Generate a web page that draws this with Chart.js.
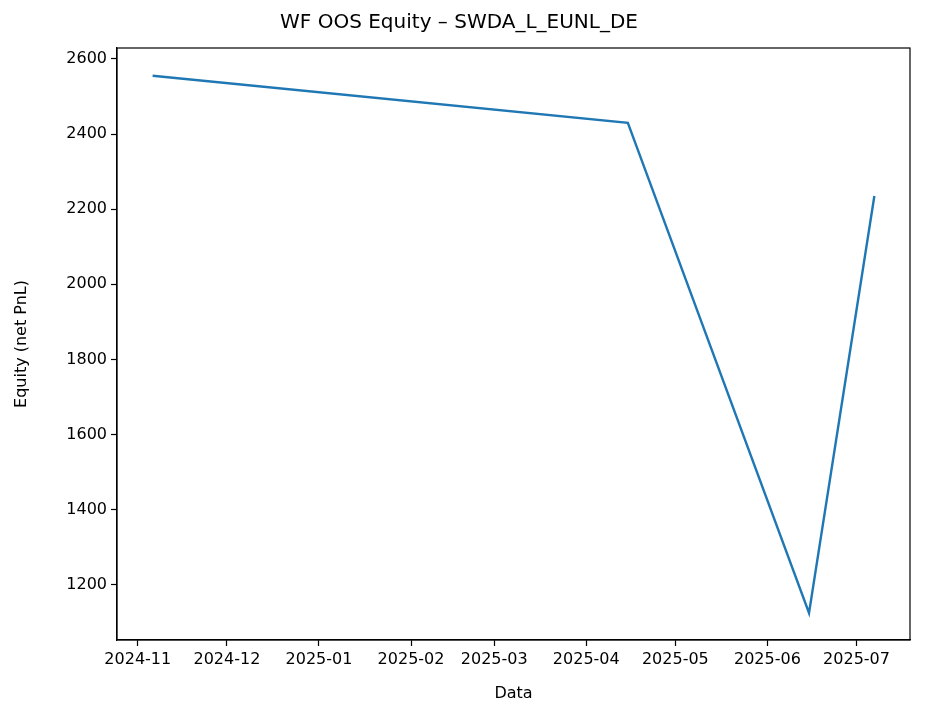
<!DOCTYPE html>
<html><head><meta charset="utf-8">
<script src="https://cdn.jsdelivr.net/npm/chart.js@4.4.1/dist/chart.umd.min.js"></script>
<style>body{margin:0;background:#fff}</style></head>
<body><canvas id="c" width="926" height="721"></canvas>
<script>
const dates = ["2024-11-06","2025-04-15","2025-06-15","2025-07-07"];
const equity = [2555, 2430, 1125, 2235];
const tickDates = ["2024-11-01","2024-12-01","2025-01-01","2025-02-01","2025-03-01","2025-04-01","2025-05-01","2025-06-01","2025-07-01"];
const tickLabels = ["2024-11","2024-12","2025-01","2025-02","2025-03","2025-04","2025-05","2025-06","2025-07"];
const yTicks = [1200,1400,1600,1800,2000,2200,2400,2600];
const day = s => Date.parse(s+"T00:00:00Z")/86400000;
const pts = dates.map((d,i)=>({x:day(d), y:equity[i]}));
const tickDays = tickDates.map(day);
const font = {family:"DejaVu Sans", size:16};
Chart.defaults.color = "#000";
const box = {id:"box", afterDraw(c){const a=c.chartArea,x=c.ctx;x.save();x.strokeStyle="#000";x.lineWidth=1.2;x.strokeRect(a.left,a.top,a.right-a.left,a.bottom-a.top);x.restore();}};
new Chart(document.getElementById("c"), {
  type:"line",
  data:{datasets:[{data:pts, borderColor:"#1f77b4", borderWidth:2.4, pointRadius:0, tension:0}]},
  options:{
    responsive:false, animation:false,
    layout:{padding:{left:8,right:16,top:0,bottom:14}},
    plugins:{legend:{display:false}, tooltip:{enabled:false},
      title:{display:true, text:"WF OOS Equity – SWDA_L_EUNL_DE", color:"#000",
        font:{family:"DejaVu Sans", size:20, weight:"normal"}, padding:{top:11,bottom:13}}},
    scales:{
      x:{type:"linear", min:day("2024-10-25"), max:day("2025-07-19"),
        afterBuildTicks:a=>{a.ticks=tickDays.map(v=>({value:v}));},
        afterFit:a=>{a.height=67;},
        ticks:{autoSkip:false, maxRotation:0, font, padding:4,
          callback:(v)=>{const i=tickDays.indexOf(v);return i>=0?tickLabels[i]:"";}},
        grid:{drawOnChartArea:false, color:"#000", tickLength:6, tickWidth:1.2},
        border:{color:"#000", width:1.2},
        title:{display:true, text:"Data", font, padding:{top:4}}},
      y:{min:1053, max:2629,
        afterBuildTicks:a=>{a.ticks=yTicks.map(v=>({value:v}));},
        afterFit:a=>{a.width=109;},
        ticks:{font, padding:4, callback:v=>String(v)},
        grid:{drawOnChartArea:false, color:"#000", tickLength:6, tickWidth:1.2},
        border:{color:"#000", width:1.2},
        title:{display:true, text:"Equity (net PnL)", font, padding:{bottom:4}}}
    }
  },
  plugins:[box]
});
</script></body></html>
